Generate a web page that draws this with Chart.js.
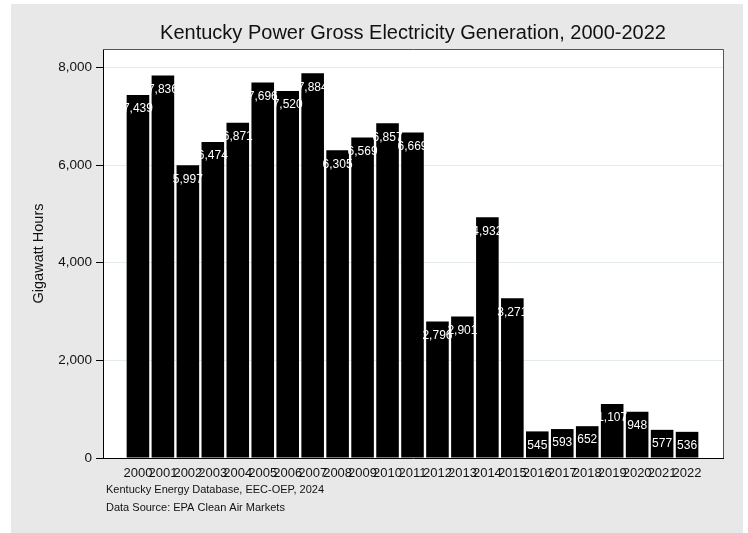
<!DOCTYPE html>
<html>
<head>
<meta charset="utf-8">
<script src="https://cdn.jsdelivr.net/npm/chart.js@4.4.1/dist/chart.umd.min.js"></script>
<style>
  html, body { margin: 0; padding: 0; background: #fff; }
</style>
</head>
<body>
<canvas id="chart" width="748" height="533"></canvas>
<script>
const years = ['2000', '2001', '2002', '2003', '2004', '2005', '2006', '2007', '2008', '2009', '2010', '2011',
               '2012', '2013', '2014', '2015', '2016', '2017', '2018', '2019', '2020', '2021', '2022'];
const gwh = [7439, 7836, 5997, 6474, 6871, 7696, 7520, 7884, 6305, 6569, 6857, 6669,
             2796, 2901, 4932, 3271, 545, 593, 652, 1107, 948, 577, 536];
const yTicks = [0, 2000, 4000, 6000, 8000];

const chartTitle = 'Kentucky Power Gross Electricity Generation, 2000-2022';
const yTitle = 'Gigawatt Hours';
const notes = ['Kentucky Energy Database, EEC-OEP, 2024', 'Data Source: EPA Clean Air Markets'];

const FONT = '"Liberation Sans", Arial, Helvetica, sans-serif';
const fmt = v => v.toLocaleString('en-US');

// background panels, value labels and the text around the plot
const stataLook = {
  id: 'stataLook',
  beforeDraw(chart) {
    const { ctx, chartArea: a } = chart;
    ctx.save();
    ctx.fillStyle = '#ffffff';
    ctx.fillRect(0, 0, chart.width, chart.height);
    ctx.fillStyle = '#e8e8e8';
    ctx.fillRect(11, 4, 732, 529);
    ctx.fillStyle = '#ffffff';
    ctx.fillRect(a.left, a.top, a.right - a.left, a.bottom - a.top);
    ctx.restore();
  },
  afterDatasetsDraw(chart) {
    const { ctx, chartArea: a } = chart;
    const meta = chart.getDatasetMeta(0);
    ctx.save();
    ctx.beginPath();
    ctx.rect(a.left, a.top, a.right - a.left, a.bottom - a.top);
    ctx.clip();
    ctx.fillStyle = '#ffffff';
    ctx.font = '12px ' + FONT;
    ctx.textAlign = 'center';
    ctx.textBaseline = 'middle';
    meta.data.forEach((bar, i) => {
      ctx.fillText(fmt(gwh[i]), bar.x, bar.y + 14);
    });
    ctx.restore();
  },
  afterDraw(chart) {
    const { ctx, chartArea: a } = chart;
    ctx.save();
    // top and right edges of the plot region
    ctx.strokeStyle = '#555555';
    ctx.lineWidth = 1;
    ctx.beginPath();
    ctx.moveTo(a.left, a.top + 0.5);
    ctx.lineTo(a.right + 0.5, a.top + 0.5);
    ctx.lineTo(a.right + 0.5, a.bottom);
    ctx.stroke();

    ctx.fillStyle = '#111111';
    ctx.textAlign = 'center';
    ctx.textBaseline = 'middle';
    ctx.font = '20px ' + FONT;
    ctx.fillText(chartTitle, (a.left + a.right) / 2, 33);

    ctx.save();
    ctx.translate(38.5, (a.top + a.bottom) / 2);
    ctx.rotate(-Math.PI / 2);
    ctx.font = '14.5px ' + FONT;
    ctx.fillText(yTitle, 0, 0);
    ctx.restore();

    ctx.textAlign = 'left';
    ctx.font = '11px ' + FONT;
    ctx.fillText(notes[0], 106, 490);
    ctx.fillText(notes[1], 106, 508);
    ctx.restore();
  }
};

new Chart(document.getElementById('chart'), {
  type: 'bar',
  data: {
    datasets: [{
      label: 'Gigawatt Hours',
      data: gwh.map((v, i) => ({ x: i, y: v })),
      backgroundColor: '#000000',
      borderWidth: 0,
      barPercentage: 0.905,
      categoryPercentage: 1
    }]
  },
  options: {
    responsive: false,
    animation: false,
    devicePixelRatio: 1,
    layout: { padding: { left: 0, right: 25, top: 49, bottom: 0 } },
    plugins: {
      legend: { display: false },
      tooltip: { enabled: false }
    },
    scales: {
      x: {
        type: 'linear',
        offset: false,
        min: -1.40,
        max: 23.44,
        afterBuildTicks: scale => { scale.ticks = years.map((y, i) => ({ value: i })); },
        afterFit: scale => { scale.height = 75; },
        grid: { display: false, drawTicks: false },
        border: { display: true, color: '#000000', width: 1 },
        ticks: {
          autoSkip: false,
          maxRotation: 0,
          minRotation: 0,
          padding: 8,
          color: '#111111',
          font: { family: FONT, size: 13 },
          callback: v => years[v]
        }
      },
      y: {
        min: 0,
        max: 8380,
        afterBuildTicks: scale => { scale.ticks = yTicks.map(v => ({ value: v })); },
        afterFit: scale => { scale.width = 103; },
        grid: { color: '#e3ebed', lineWidth: 1, tickLength: 7, tickColor: '#000000' },
        border: { display: true, color: '#000000', width: 1 },
        ticks: {
          padding: 4,
          color: '#111111',
          font: { family: FONT, size: 13.5 },
          callback: v => fmt(v)
        }
      }
    }
  },
  plugins: [stataLook]
});
</script>
</body>
</html>
